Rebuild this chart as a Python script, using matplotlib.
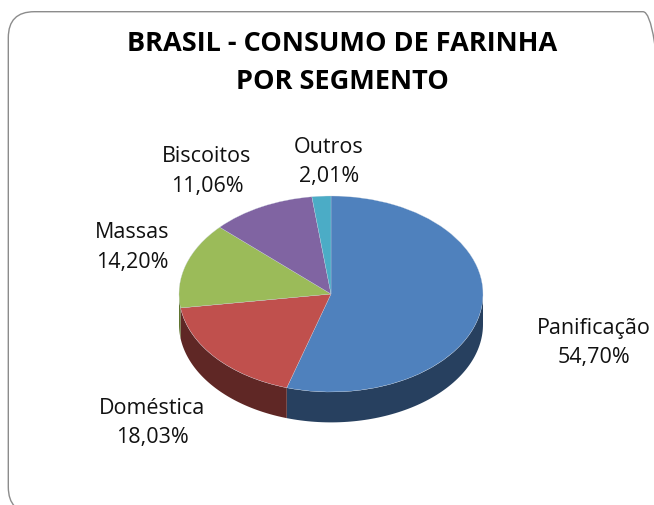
"""Brasil - consumo de farinha por segmento, 3D style pie."""

from __future__ import annotations

import matplotlib

matplotlib.use("Agg")

import matplotlib.pyplot as plt
import numpy as np
from matplotlib.patches import FancyBboxPatch


TITLE = "BRASIL - CONSUMO DE FARINHA\nPOR SEGMENTO"
SEGMENTS = ["Panificação", "Doméstica", "Massas", "Biscoitos", "Outros"]
SHARES = [54.70, 18.03, 14.20, 11.06, 2.01]
TOP_COLORS = ["#4F81BD", "#C0504D", "#9BBB59", "#8064A2", "#4BACC6"]
SIDE_COLORS = ["#27405F", "#5F2725", "#5F7530", "#4D3C62", "#2D6777"]

W, H = 654, 506
DEPTH = 0.31  # height of the pie wall, in units of the vertical radius


def make_chart() -> None:
	plt.rcParams["font.family"] = ["Open Sans", "DejaVu Sans"]
	fig = plt.figure(figsize=(W / 100, H / 100), dpi=100, facecolor="white")

	# rounded border, runs off the right and bottom of the picture
	fig.add_artist(
		FancyBboxPatch(
			(34.3, 18),
			608.7,
			449.3,
			boxstyle="round,pad=26,rounding_size=26",
			transform=None,
			facecolor="none",
			edgecolor="#8C8C8C",
			linewidth=1.0,
			zorder=0,
		)
	)

	# pixel box of the ellipse: x 179-483, y 197-393
	left, right, top, bottom = 179, 483, 197, 393
	ry = (bottom - top) / 2
	ax_bottom = bottom + (DEPTH * ry)
	ax = fig.add_axes([left / W, 1 - ax_bottom / H, (right - left) / W, (ax_bottom - top) / H])

	ax.pie(
		SHARES,
		colors=TOP_COLORS,
		startangle=90,
		counterclock=False,
		radius=1,
		wedgeprops={"edgecolor": "#C9D3E0", "linewidth": 0.2, "zorder": 3},
	)
	ax.set_aspect("auto")
	ax.set_xlim(-1, 1)
	ax.set_ylim(-1 - DEPTH, 1)
	for patch in ax.patches:
		patch.set_clip_on(False)

	# walls of the front half, one per slice
	start = 90.0
	for share, color in zip(SHARES, SIDE_COLORS):
		end = start - share * 3.6
		lo, hi = max(end, -180.0), min(start, 0.0)
		if hi > lo:
			t = np.radians(np.linspace(lo, hi, 80))
			xs = np.concatenate([np.cos(t), np.cos(t)[::-1]])
			ys = np.concatenate([np.sin(t), np.sin(t)[::-1] - DEPTH])
			ax.fill(xs, ys, color=color, linewidth=0, zorder=1, clip_on=False)
		start = end

	fig.text(342 / W, 1 - 63 / H, TITLE, ha="center", va="center", fontsize=19.5,
		fontweight="bold", color="black", linespacing=1.6)

	label_pos = [(594, 343), (152, 423), (132, 247.5), (207, 171.5), (329, 162)]
	for name, share, (x, y) in zip(SEGMENTS, SHARES, label_pos):
		label = f"{name}\n{share:.2f}%".replace(".", ",")
		fig.text(x / W, 1 - y / H, label, ha="center", va="center", fontsize=15.5,
			color="#111111", linespacing=1.53)

	fig.savefig("out.png", dpi=100)
	plt.close(fig)


if __name__ == "__main__":
	make_chart()
